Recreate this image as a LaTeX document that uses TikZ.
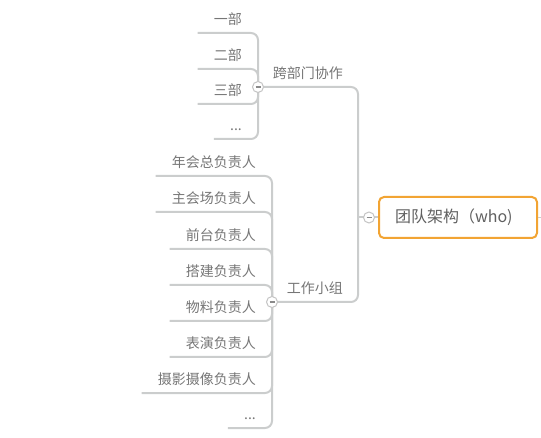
\documentclass[tikz,border=0pt]{standalone}
\usepackage{fontspec}
\usepackage{tikz}
\usetikzlibrary{positioning}
\newfontfamily\cjk{Noto Sans CJK SC}
\definecolor{linegray}{HTML}{CBCDCD}
\definecolor{textgray}{HTML}{767676}
\definecolor{rootorange}{HTML}{F2A433}
\definecolor{roottext}{HTML}{606060}
\definecolor{knobgray}{HTML}{C4C4C4}
\definecolor{minusgray}{HTML}{8A8A8A}

\begin{document}
\begin{tikzpicture}[x=1pt,y=-1pt]
		\tikzstyle{leaf}=[inner xsep=16pt, inner ysep=8pt, text height=11pt, text depth=0.5pt, anchor=south east, text=textgray, font=\cjk\fontsize{14}{16}\selectfont]
		\tikzstyle{branch}=[leaf, inner xsep=15pt]
		\tikzstyle{link}=[draw=linegray, line width=2pt, rounded corners=7pt]
		\tikzstyle{knob}=[circle, draw=knobgray, fill=white, line width=1pt, minimum size=11pt, inner sep=0pt]
		\useasboundingbox (0,0) rectangle (541,438);
		\node [draw=rootorange, line width=2pt, rounded corners=5pt, fill=white, inner xsep=16pt, minimum height=41pt, text=roottext, font=\cjk\fontsize{16}{18}\selectfont] (root) at (458,217.5) {\makebox[126pt][l]{团队架构（who)}};
		\coordinate (ca) at (258,87);
		\coordinate (cb) at (272,302);
		\coordinate (cr) at (369,217.5);
		\coordinate (out) at (541,217.5);
		\node [leaf] (a1) at (258,33) {一部};
		\node [leaf] (a2) at (258,69) {二部};
		\node [leaf] (a3) at (258,104) {三部};
		\node [leaf] (a4) at (258,139) {...};
		\node [branch] (p1) at (358,87) {跨部门协作};
		\node [branch] (p2) at (358,302) {工作小组};
		\node [leaf] (b1) at (272,176) {年会总负责人};
		\node [leaf] (b2) at (272,212) {主会场负责人};
		\node [leaf] (b3) at (272,249) {前台负责人};
		\node [leaf] (b4) at (272,285) {搭建负责人};
		\node [leaf] (b5) at (272,321) {物料负责人};
		\node [leaf] (b6) at (272,357) {表演负责人};
		\node [leaf] (b7) at (272,393) {摄影摄像负责人};
		\node [leaf] (b8) at (272,428) {...};
		\coordinate (hub) at (p1.south east |- root.west);
		\draw [link] (a1.south west) -- (a1.south east) -- (a4.south east) -- (a4.south west);
		\draw [link] (a2.south west) -- (a2.south east) -- (ca);
		\draw [link] (a3.south west) -- (a3.south east) -- (ca);
		\draw [link] (p1.south west) -- (p1.south east) -- (p2.south east) -- (p2.south west);
		\draw [link] (b1.south west) -- (b1.south east) -- (b8.south east) -- (b8.south west);
		\draw [link] (b2.south west) -- (b2.south east) -- (cb);
		\draw [link] (b3.south west) -- (b3.south east) -- (cb);
		\draw [link] (b4.south west) -- (b4.south east) -- (cb);
		\draw [link] (b5.south west) -- (b5.south east) -- (cb);
		\draw [link] (b6.south west) -- (b6.south east) -- (cb);
		\draw [link] (b7.south west) -- (b7.south east) -- (cb);
		\draw [link] (hub) -- (root.west);
		\draw [link, line width=1.5pt] (root.east) -- (out);
		\node [knob] (ka) at (ca) {};
		\node [knob] (kb) at (cb) {};
		\node [knob] (kr) at (cr) {};
		\draw [minusgray, line width=1.2pt] ([xshift=-2.5pt]ka.center) -- ([xshift=2.5pt]ka.center);
		\draw [minusgray, line width=1.2pt] ([xshift=-2.5pt]kb.center) -- ([xshift=2.5pt]kb.center);
		\draw [minusgray, line width=1.2pt] ([xshift=-2.5pt]kr.center) -- ([xshift=2.5pt]kr.center);
\end{tikzpicture}
\end{document}
